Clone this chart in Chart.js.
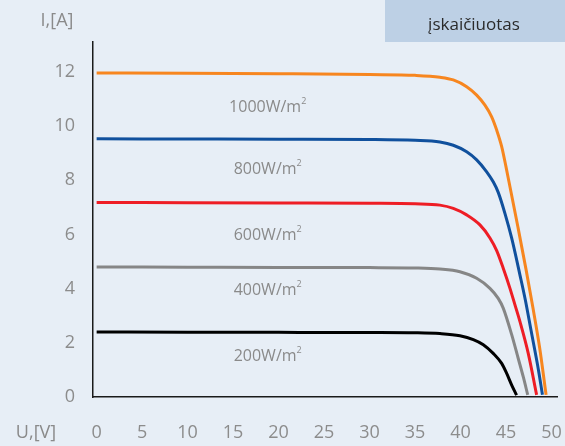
<!DOCTYPE html>
<html><head><meta charset="utf-8">
<script src="https://cdn.jsdelivr.net/npm/chart.js@4"></script>
<style>html,body{margin:0;padding:0;background:#e7eef6;}#wrap{width:565px;height:446px;position:relative;}</style>
</head><body><div id="wrap"><canvas id="c" width="565" height="446"></canvas></div>
<script>
// Data (U in V, I in A)
const u1000 = [0, 10, 20, 30, 35, 37.73, 39.2, 40.67, 41.77, 42.68, 43.42, 43.97, 44.52, 44.99, 45.43, 46.3, 47.2, 47.95, 48.7, 49.4];
const i1000 = [11.96, 11.95, 11.93, 11.9, 11.87, 11.8, 11.7, 11.45, 11.14, 10.77, 10.34, 9.85, 9.24, 8.5, 7.76, 6.28, 4.7, 3.3, 1.8, 0.08];
const u800 = [0, 10, 20, 30, 35, 37.73, 39.2, 40.67, 41.77, 42.87, 43.59, 44.14, 44.9, 45.62, 46.53, 47.12, 47.74, 48.56, 49.0];
const i800 = [9.53, 9.52, 9.51, 9.5, 9.47, 9.41, 9.29, 9.05, 8.75, 8.31, 7.94, 7.55, 6.75, 5.86, 4.5, 3.58, 2.47, 1.0, 0.08];
const u600 = [0, 10, 20, 30, 35, 37.73, 39.2, 40.67, 42.13, 43.23, 43.97, 44.69, 45.43, 45.98, 46.53, 47.44, 48.36];
const i600 = [7.18, 7.17, 7.16, 7.15, 7.13, 7.08, 6.96, 6.72, 6.35, 5.87, 5.4, 4.75, 4.01, 3.4, 2.78, 1.61, 0.08];
const u400 = [0, 10, 20, 30, 35, 37.73, 39.93, 41.77, 43.23, 44.14, 44.69, 45.62, 46.34, 46.91, 47.38];
const i400 = [4.8, 4.79, 4.78, 4.775, 4.76, 4.72, 4.62, 4.38, 4.01, 3.64, 3.28, 2.3, 1.42, 0.72, 0.08];
const u200 = [0, 10, 20, 30, 35, 37.73, 39.93, 41.4, 42.5, 43.59, 44.52, 45.07, 45.62, 46.16];
const i200 = [2.4, 2.39, 2.385, 2.38, 2.37, 2.34, 2.26, 2.12, 1.93, 1.61, 1.24, 0.87, 0.44, 0.07];
const seriesNames = ['1000W/m', '800W/m', '600W/m', '400W/m', '200W/m'];
const seriesColors = ['#f7861f', '#10509d', '#ee1d25', '#868686', '#000000'];
const labelU = [18.8, 18.8, 18.8, 18.8, 18.8];
const labelI = [10.7, 8.38, 5.98, 3.95, 1.51];
const xTicks = [0, 5, 10, 15, 20, 25, 30, 35, 40, 45, 50];
const yTicks = [0, 2, 4, 6, 8, 10, 12];

const us = [u1000, u800, u600, u400, u200];
const is = [i1000, i800, i600, i400, i200];
const FONT = '"Open Sans", "Noto Sans", sans-serif';

const datasets = us.map((u, k) => ({
  label: seriesNames[k],
  data: u.map((x, j) => ({x: x, y: is[k][j]})),
  borderColor: seriesColors[k],
  borderWidth: 3,
  pointRadius: 0,
  fill: false,
  cubicInterpolationMode: 'monotone'
}));

const deco = {
  id: 'deco',
  beforeDraw(chart) {
    const c = chart.ctx;
    c.save();
    c.fillStyle = '#e7eef6';
    c.fillRect(0, 0, chart.width, chart.height);
    c.fillStyle = '#bdd0e5';
    c.fillRect(385, 0, 180, 42);
    c.fillStyle = '#2a2a2a';
    c.font = '17px ' + FONT;
    c.textAlign = 'center';
    c.textBaseline = 'alphabetic';
    c.fillText('įskaičiuotas', 474, 30);
    c.restore();
  },
  afterDraw(chart) {
    const c = chart.ctx;
    const xs = chart.scales.x, ys = chart.scales.y;
    c.save();
    c.fillStyle = '#8a8a8a';
    c.font = '18px ' + FONT;
    c.textBaseline = 'middle';
    c.textAlign = 'center';
    c.fillText('I,[A]', 57, 21);
    c.fillText('U,[V]', 36, 433);
    // x tick labels
    c.fillStyle = '#8c8c8c';
    xTicks.forEach(v => c.fillText(String(v), xs.getPixelForValue(v), 433));
    // series labels
    c.fillStyle = '#8a8a8a';
    for (let k = 0; k < seriesNames.length; k++) {
      const px = xs.getPixelForValue(labelU[k]);
      const py = ys.getPixelForValue(labelI[k]);
      c.font = '16px ' + FONT;
      const w = c.measureText(seriesNames[k]).width;
      c.font = '9px ' + FONT;
      const w2 = c.measureText('2').width;
      const x0 = px - (w + w2) / 2;
      c.textAlign = 'left';
      c.font = '16px ' + FONT;
      c.fillText(seriesNames[k], x0, py);
      c.font = '9px ' + FONT;
      c.fillText('2', x0 + w, py - 6);
    }
    c.restore();
  }
};

new Chart(document.getElementById('c'), {
  type: 'line',
  data: { datasets },
  options: {
    responsive: false,
    animation: false,
    devicePixelRatio: 1,
    layout: { padding: { top: 42, right: 8, left: 0, bottom: 0 } },
    plugins: { legend: { display: false }, tooltip: { enabled: false } },
    scales: {
      x: {
        type: 'linear', min: -0.4, max: 50.6,
        afterBuildTicks: (s) => { s.ticks = xTicks.map(v => ({value: v})); },
        afterFit: (s) => { s.height = 49; },
        grid: { display: false, drawTicks: false },
        border: { display: true, color: '#1a1a1a', width: 1.5 },
        ticks: { display: false }
      },
      y: {
        type: 'linear', min: 0, max: 13.1,
        afterBuildTicks: (s) => { s.ticks = yTicks.map(v => ({value: v})); },
        afterFit: (s) => { s.width = 93; },
        grid: { display: false, drawTicks: false },
        border: { display: true, color: '#1a1a1a', width: 1.5 },
        ticks: { color: '#8c8c8c', font: { size: 18, family: FONT }, padding: 18 }
      }
    }
  },
  plugins: [deco]
});
</script>
</body></html>
